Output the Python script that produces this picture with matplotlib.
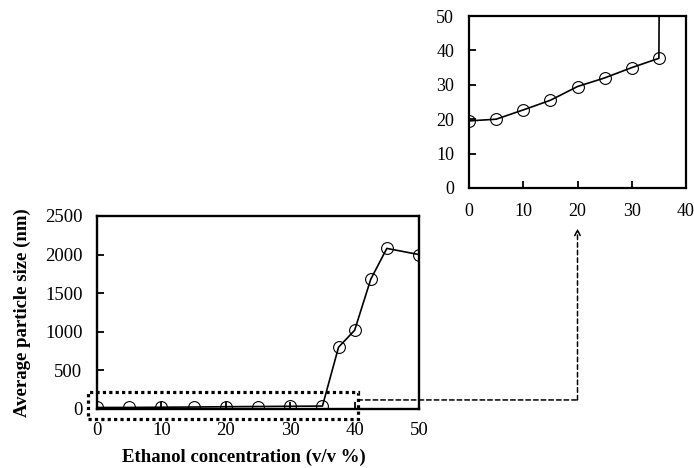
import matplotlib
matplotlib.use("Agg")
import matplotlib.pyplot as plt
from matplotlib.patches import Rectangle, ConnectionPatch
from matplotlib.transforms import blended_transform_factory

plt.rcParams['font.family'] = ['Liberation Serif', 'DejaVu Serif']

# ---- data ----
ethanol = [0, 5, 10, 15, 20, 25, 30, 35, 37.5, 40, 42.5, 45, 50]
particle_size = [19.5, 20.0, 22.7, 25.5, 29.5, 32.0, 35.0, 37.7, 800, 1020, 1680, 2080, 2000]

main_xticks = [0, 10, 20, 30, 40, 50]
main_yticks = [0, 500, 1000, 1500, 2000, 2500]
inset_xticks = [0, 10, 20, 30, 40]
inset_yticks = [0, 10, 20, 30, 40, 50]

xlabel = "Ethanol concentration (v/v %)"
ylabel = "Average particle size (nm)"

fig = plt.figure(figsize=(6.94, 4.68), dpi=100)

ax = fig.add_axes([0.1398, 0.1261, 0.4640, 0.4124])
ins = fig.add_axes([0.6758, 0.5983, 0.3127, 0.3675])

for a, xt, yt, lw in ((ax, main_xticks, main_yticks, 1.7), (ins, inset_xticks, inset_yticks, 1.6)):
    a.plot(ethanol, particle_size, color='black', lw=1.2, marker='o', ms=8.5,
           mfc='none', mec='black', mew=0.8)
    a.set_xticks(xt)
    a.set_yticks(yt)
    for s in a.spines.values():
        s.set_linewidth(lw)
    a.tick_params(direction='in', length=5, width=1.3)

ax.tick_params(axis='x', pad=9.5, labelsize=13.5)
ax.tick_params(axis='y', pad=10.5, labelsize=13.5)
ins.tick_params(axis='both', pad=10.8, labelsize=13)

ax.set_xlim(0, 50)
ax.set_ylim(0, 2500)
ins.set_xlim(0, 40)
ins.set_ylim(0, 50)

ax.set_xlabel(xlabel, fontsize=13.5, fontweight='bold', va='center')
ax.xaxis.set_label_coords(0.455, -0.249)
ax.set_ylabel(ylabel, fontsize=13.5, fontweight='bold', va='center', ha='center')
ax.yaxis.set_label_coords(-0.233, 0.5)

# dotted zoom rectangle
rect = Rectangle((-1.4, -130), 41.9, 350, fill=False, ec='black', lw=2.3,
                 ls=(0, (1, 1)), clip_on=False, transform=ax.transData, zorder=5)
ax.add_patch(rect)

# dashed connector
corner_tr = blended_transform_factory(ins.transData, ax.transData)
con = ConnectionPatch(xyA=(40.5, 117), coordsA=ax.transData,
                      xyB=(20, 117), coordsB=corner_tr,
                      ls=(0, (3, 2)), lw=1.1, color='black')
fig.add_artist(con)
tip_tr = blended_transform_factory(ins.transData, ins.transAxes)
ax.annotate("", xy=(20, -0.235), xycoords=tip_tr,
            xytext=(20, 117), textcoords=corner_tr,
            arrowprops=dict(arrowstyle='->', ls=(0, (3, 2)), lw=1.1, color='black',
                            shrinkA=0, shrinkB=0, mutation_scale=10),
            annotation_clip=False)

fig.savefig("out.png", dpi=100)
